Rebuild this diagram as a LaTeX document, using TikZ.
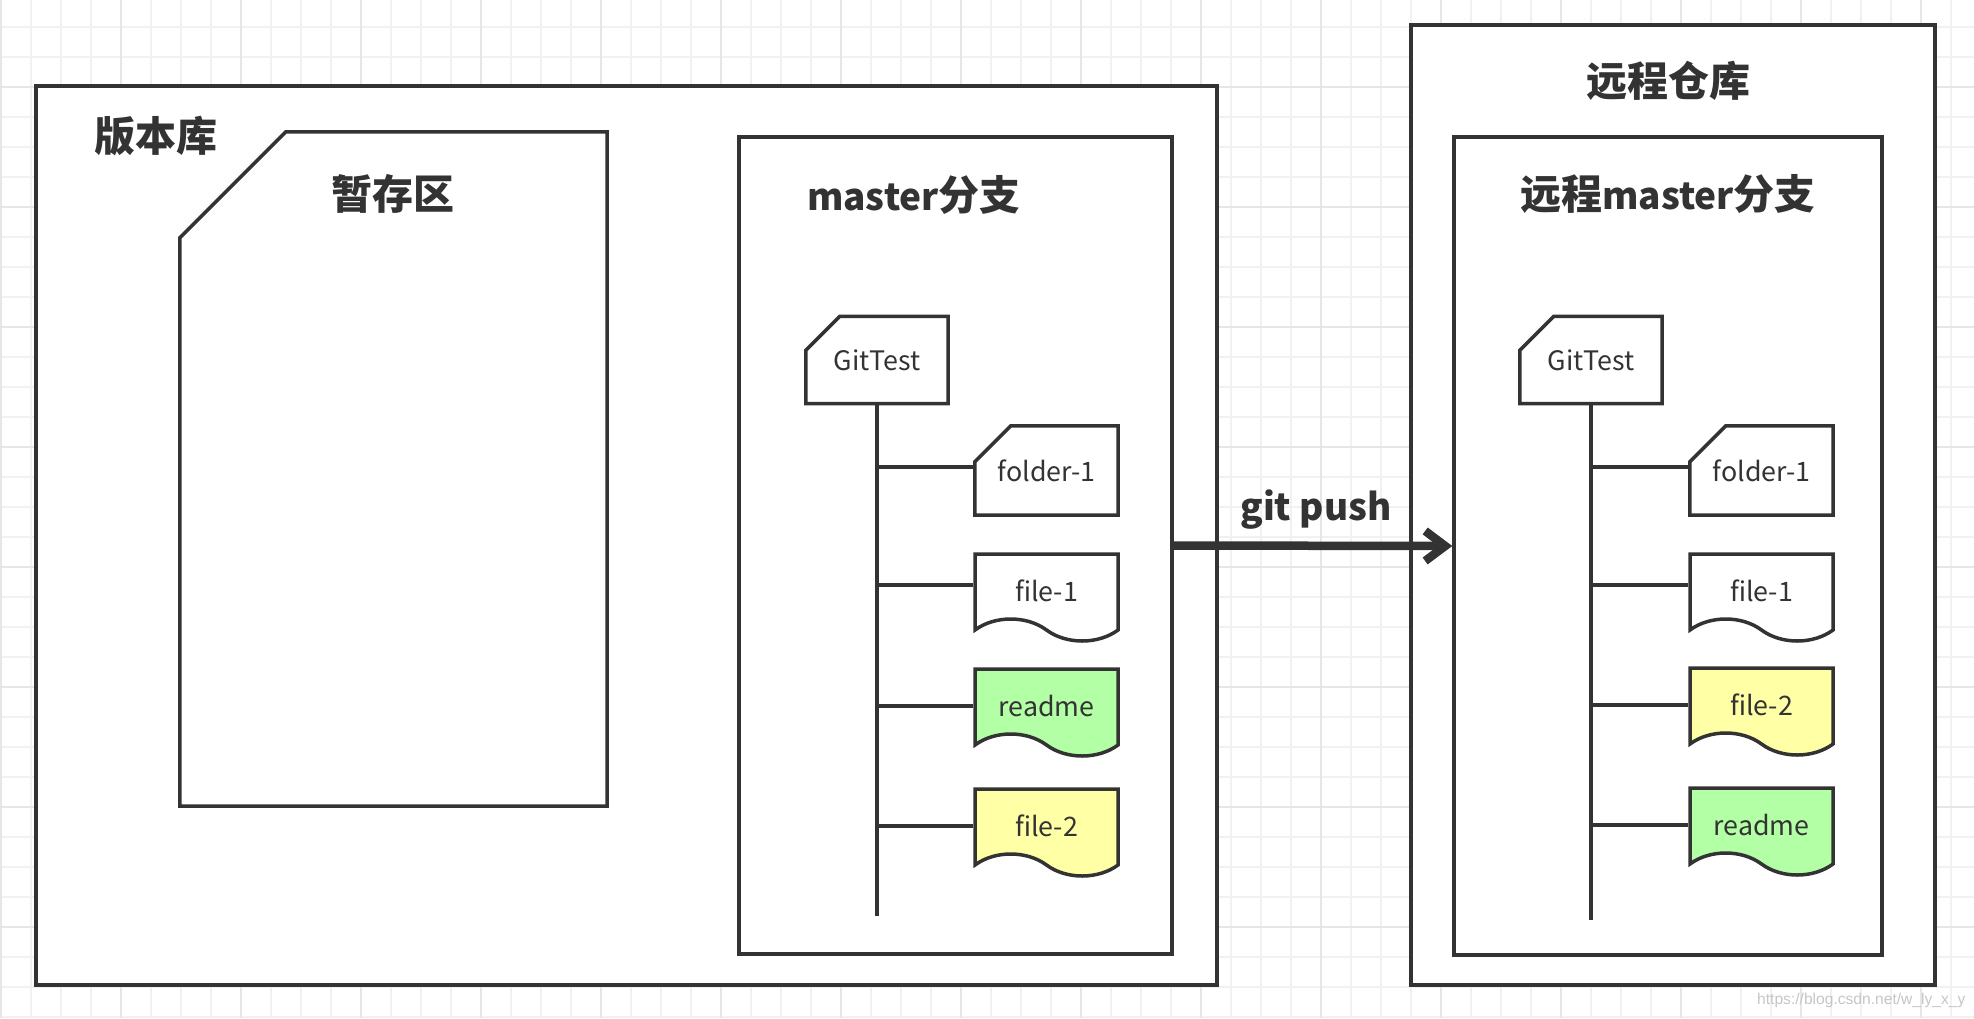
\documentclass[tikz,border=0pt]{standalone}
\usepackage{fontspec}
\setmainfont{Noto Sans CJK SC}
\newfontfamily\markfont{Liberation Sans}
\usetikzlibrary{shapes.symbols,arrows.meta}
\definecolor{ink}{HTML}{333333}
\definecolor{gridminor}{HTML}{F1F1F1}
\definecolor{gridmajor}{HTML}{E6E6E6}
\definecolor{readmegreen}{HTML}{B3FFA6}
\definecolor{fileyellow}{HTML}{FFFFA6}

\begin{document}
\begin{tikzpicture}[x=1pt,y=-1pt,
  repoframe/.style={draw=ink,fill=white,line width=3.5pt,inner sep=0pt},
  cardnode/.style={inner sep=0pt,minimum width=142pt,minimum height=87pt,
    text=ink,font=\fontsize{26.8}{32}\selectfont,
    append after command={\pgfextra{\draw[draw=ink,line width=3.5pt]
      ([xshift=#1]\tikzlastnode.north west) -- (\tikzlastnode.north east)
      -- (\tikzlastnode.south east) -- (\tikzlastnode.south west)
      -- ([yshift=-#1]\tikzlastnode.north west) -- cycle;}}},
  cardnode/.default=34pt,
  docnode/.style={repoframe,tape,tape bend top=none,tape bend bottom=out and in,
    tape bend height=22pt,minimum width=143pt,minimum height=87pt,
    text height=36pt,text depth=6pt,text=ink,font=\fontsize{26.8}{32}\selectfont},
  titletext/.style={text=ink,inner sep=0pt,font=\fontsize{41}{49}\selectfont\bfseries},
  latinpart/.style={font=\fontsize{37}{49}\selectfont\bfseries},
  branchline/.style={draw=ink,line width=3.5pt},
  pusharrow/.style={draw=ink,line width=8.5pt,-{Straight Barb[length=20pt,width=30pt]}},
  gridline/.style={draw=gridminor,line width=1.6pt},
  gridbold/.style={draw=gridmajor,line width=1.6pt}]
\useasboundingbox (0,0) rectangle (1974,1018);
\fill[white] (0,0) rectangle (1974,1018);
\foreach \gx in {1,31,...,1951} \draw[gridline] (\gx,0) -- (\gx,1018);
\foreach \gy in {27,57,...,1017} \draw[gridline] (0,\gy) -- (1974,\gy);
\foreach \gx in {1,121,...,1921} \draw[gridbold] (\gx,0) -- (\gx,1018);
\foreach \gy in {87,207,...,927} \draw[gridbold] (0,\gy) -- (1974,\gy);

\node[repoframe,minimum width=1181pt,minimum height=899pt] (repo) at (626.5,535.5) {};
\node[titletext] (repolabel) at (156,136.5) {版本库};
\node[cardnode=106pt,minimum width=427pt,minimum height=674pt] (stage) at (393.5,469) {};
\node[titletext] (stagelabel) at (393,194) {暂存区};
\node[repoframe,minimum width=433pt,minimum height=817pt] (master) at (955.5,545.5) {};
\node[titletext] (masterlabel) at (914,195) {{\fontsize{37}{49}\selectfont master}分支};

\node[cardnode] (lgit) at (877,360) {GitTest};
\node[cardnode=36pt,minimum width=143pt,minimum height=89pt] (lfolder) at (1046.5,470.5) {folder-1};
\node[docnode] (lfile1) at (1046.5,586.5) {file-1};
\node[docnode,fill=readmegreen] (lreadme) at (1046.5,701.5) {readme};
\node[docnode,fill=fileyellow] (lfile2) at (1046.5,821.5) {file-2};
\coordinate (lend) at (877,916);
\coordinate (lb1) at (877,467);
\coordinate (lb2) at (877,585);
\coordinate (lb3) at (877,706);
\coordinate (lb4) at (877,826);
\draw[branchline] (lgit.south) -- (lend);
\draw[branchline] (lb1) -- (lb1 -| lfolder.west);
\draw[branchline] (lb2) -- (lb2 -| lfile1.west);
\draw[branchline] (lb3) -- (lb3 -| lreadme.west);
\draw[branchline] (lb4) -- (lb4 -| lfile2.west);

\node[repoframe,minimum width=524pt,minimum height=960pt] (remote) at (1673,505) {};
\node[titletext] (remotelabel) at (1668,81) {远程仓库};
\node[repoframe,minimum width=428pt,minimum height=818pt] (rmaster) at (1668,546) {};
\node[titletext] (rmasterlabel) at (1668,194) {远程{\fontsize{37}{49}\selectfont master}分支};

\node[cardnode] (rgit) at (1591,360) {GitTest};
\node[cardnode=36pt,minimum width=143pt,minimum height=89pt] (rfolder) at (1761.5,470.5) {folder-1};
\node[docnode] (rfile1) at (1761.5,586.5) {file-1};
\node[docnode,fill=fileyellow] (rfile2) at (1761.5,700.5) {file-2};
\node[docnode,fill=readmegreen] (rreadme) at (1761.5,820.5) {readme};
\coordinate (rend) at (1591,920);
\coordinate (rb1) at (1591,467);
\coordinate (rb2) at (1591,585);
\coordinate (rb3) at (1591,705);
\coordinate (rb4) at (1591,825);
\draw[branchline] (rgit.south) -- (rend);
\draw[branchline] (rb1) -- (rb1 -| rfolder.west);
\draw[branchline] (rb2) -- (rb2 -| rfile1.west);
\draw[branchline] (rb3) -- (rb3 -| rfile2.west);
\draw[branchline] (rb4) -- (rb4 -| rreadme.west);

\draw[pusharrow] (master.east) -- (rmaster.west);
\node[titletext,latinpart,anchor=base] (pushlabel) at (1316,520) {git push};
\node[text=gray!45,inner sep=0pt,anchor=base west,font=\markfont\fontsize{15.6}{18}\selectfont] (mark) at (1757,1004) {https://blog.csdn.net/w\_ly\_x\_y};
\end{tikzpicture}
\end{document}
